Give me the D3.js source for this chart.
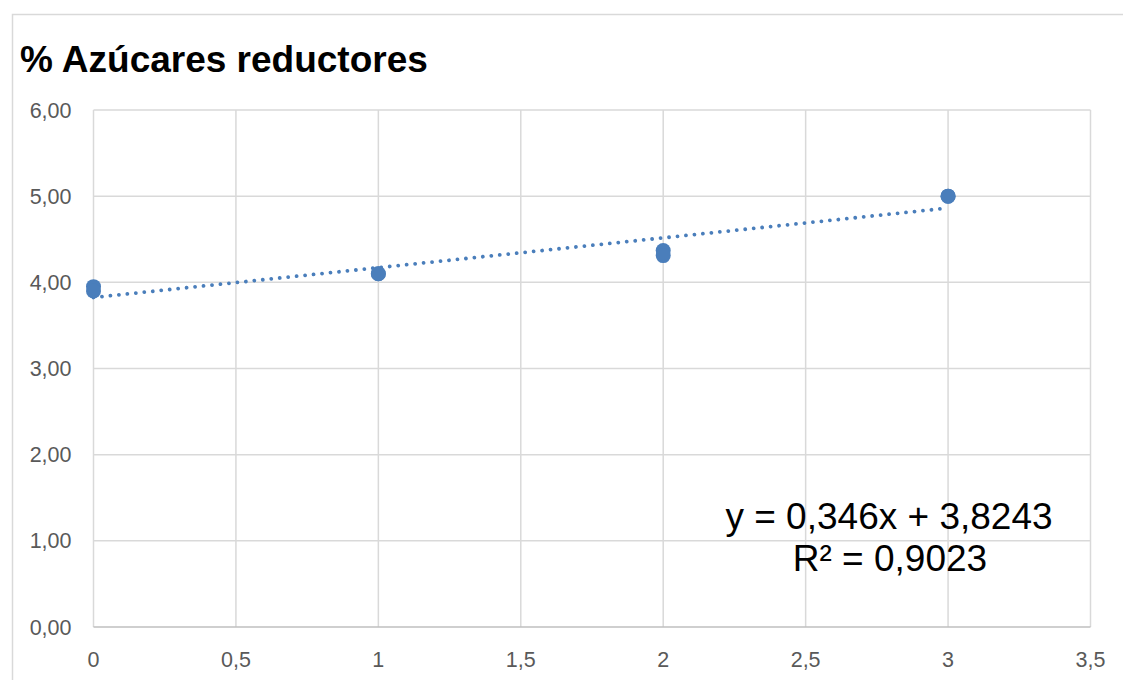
<!DOCTYPE html>
<html><head><meta charset="utf-8">
<script src="https://cdn.jsdelivr.net/npm/d3@7"></script>
<style>body{margin:0;background:#fff}svg{display:block}</style>
</head><body>
<svg id="c" width="1123" height="680"></svg>
<script>
const title = "% Azúcares reductores";
const xValues = [0, 0, 1, 1, 2, 2, 3, 3];
const yValues = [3.95, 3.90, 4.10, 4.10, 4.37, 4.31, 5.00, 5.00];
const xTicks = [0, 0.5, 1, 1.5, 2, 2.5, 3, 3.5];
const yTicks = [0, 1, 2, 3, 4, 5, 6];
const trendSlope = 0.346;
const trendIntercept = 3.8243;
const equationText = "y = 0,346x + 3,8243";
const r2Text = "R² = 0,9023";

const svg = d3.select("#c");
const x = d3.scaleLinear().domain([0, 3.5]).range([93.5, 1090.5]);
const y = d3.scaleLinear().domain([0, 6]).range([627, 110]);
const fmtY = d => d3.format(".2f")(d).replace(".", ",");
const fmtX = d => String(d).replace(".", ",");

// outer border
svg.append("rect").attr("x", 12.5).attr("y", 14.5).attr("width", 1140).attr("height", 700)
  .attr("fill", "#fff").attr("stroke", "#d9d9d9").attr("stroke-width", 1.5);

// title
svg.append("text").attr("x", 20).attr("y", 72).text(title)
  .attr("font-family", "Liberation Sans, Arial, sans-serif").attr("font-weight", "bold")
  .attr("font-size", 37).attr("fill", "#000");

// gridlines
const g = svg.append("g");
g.selectAll(".hg").data(yTicks.filter(d => d > 0)).join("line")
  .attr("x1", x(0)).attr("x2", x(3.5)).attr("y1", d => y(d)).attr("y2", d => y(d))
  .attr("stroke", "#d9d9d9").attr("stroke-width", 1.5);
g.selectAll(".vg").data(xTicks).join("line")
  .attr("x1", d => x(d)).attr("x2", d => x(d)).attr("y1", y(6)).attr("y2", y(0))
  .attr("stroke", "#d9d9d9").attr("stroke-width", 1.5);
// x axis line
g.append("line").attr("x1", x(0)).attr("x2", x(3.5)).attr("y1", y(0)).attr("y2", y(0))
  .attr("stroke", "#bfbfbf").attr("stroke-width", 1.5);

// tick labels
svg.selectAll(".yl").data(yTicks).join("text")
  .attr("x", 71.5).attr("y", d => y(d)).attr("dy", "0.35em").attr("text-anchor", "end")
  .attr("font-family", "Liberation Sans, Arial, sans-serif").attr("font-size", 21.5)
  .attr("fill", "#595959").text(fmtY);
svg.selectAll(".xl").data(xTicks).join("text")
  .attr("x", d => x(d)).attr("y", 667).attr("text-anchor", "middle")
  .attr("font-family", "Liberation Sans, Arial, sans-serif").attr("font-size", 21.5)
  .attr("fill", "#595959").text(fmtX);

// trendline
const tl = d3.line().x(d => x(d)).y(d => y(trendSlope * d + trendIntercept));
svg.append("path").datum([0, 3]).attr("d", tl).attr("fill", "none")
  .attr("stroke", "#4a7ebb").attr("stroke-width", 3.8).attr("stroke-linecap", "round")
  .attr("stroke-dasharray", "0.01 8.5");

// points
svg.selectAll(".pt").data(xValues.map((d, i) => [d, yValues[i]])).join("circle")
  .attr("cx", d => x(d[0])).attr("cy", d => y(d[1])).attr("r", 7.5).attr("fill", "#4a7ebb");

// equation
const eq = svg.append("text").attr("font-family", "Liberation Sans, Arial, sans-serif")
  .attr("font-size", 37).attr("fill", "#000").attr("text-anchor", "middle");
eq.append("tspan").attr("x", 889).attr("y", 529).text(equationText);
eq.append("tspan").attr("x", 890).attr("y", 571).text(r2Text);
</script>
</body></html>
